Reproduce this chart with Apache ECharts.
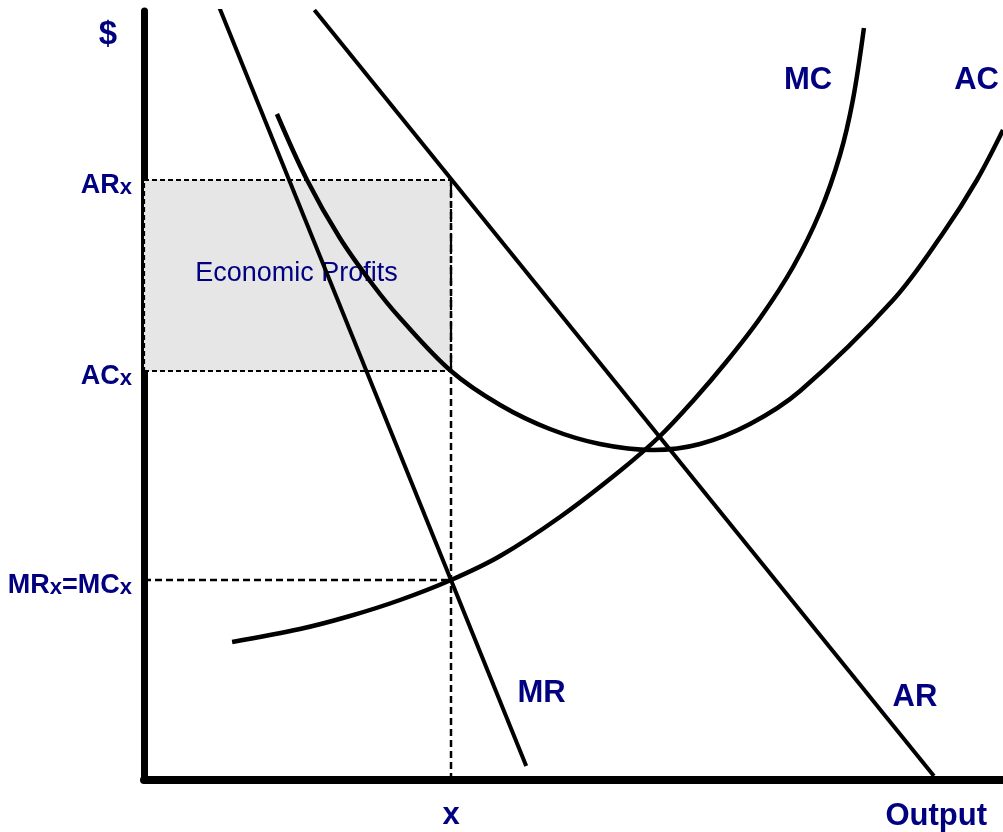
<!DOCTYPE html>
<html>
<head>
<meta charset="utf-8">
<script src="https://cdn.jsdelivr.net/npm/echarts@6/dist/echarts.min.js"></script>
<style>
  html, body { margin: 0; padding: 0; background: #ffffff; }
  #chart { width: 1003px; height: 832px; }
</style>
</head>
<body>
<div id="chart"></div>
<script>
// ---- data (quantity units, price units) ----
const outputX = 10;                 // profit-maximising output
const priceMRMC = 10;               // MRx = MCx
const priceAC = 20.45;              // ACx
const priceAR = 30;                 // ARx
const xMax = 27.98;
const yMax = 38.45;

const arLine = [[5.55, 38.5], [25.73, 0.2]];
const mrLine = [[2.46, 38.6], [12.45, 0.7]];

const mcCurve = [
  [2.87, 6.9], [5.08, 7.55], [6.71, 8.2], [8.34, 9.0], [10.0, 10.0],
  [11.6, 11.2], [13.55, 13.15], [15.5, 15.45], [16.81, 17.2], [17.88, 18.95],
  [18.99, 20.95], [20.07, 23.1], [21.14, 25.65], [22.02, 28.4], [22.67, 31.25],
  [23.09, 34.0], [23.45, 37.6]
];

const acCurve = [
  [4.33, 33.3], [5.31, 30.0], [6.38, 27.1], [7.46, 24.75], [8.34, 23.1],
  [10.0, 20.45], [11.6, 18.75], [13.22, 17.55], [14.85, 16.8], [16.58, 16.5],
  [18.11, 16.8], [19.74, 17.8], [21.37, 19.45], [24.4, 24.0],
  [26.03, 27.35], [27.13, 30.0], [27.98, 32.5]
];

const curveLabels = [
  ['MC', 21.63, 34.98],
  ['AC', 27.12, 34.98],
  ['MR', 12.95, 4.33],
  ['AR', 25.11, 4.15]
];
const areaLabel = ['Economic Profits', 4.97, 25.33];

const yTickValues = [priceMRMC, priceAC, priceAR];
const yTickLabels = {
  [priceMRMC]: '{m|MR}{s|x}{m|=MC}{s|x}',
  [priceAC]: '{m|AC}{s|x}',
  [priceAR]: '{m|AR}{s|x}'
};
const xTickValues = [outputX];
const xTickLabels = { [outputX]: 'x' };

// ---- styling ----
const NAVY = '#000080';
const FONT = "'Liberation Sans', Arial, sans-serif";

const chart = echarts.init(document.getElementById('chart'), null, { renderer: 'canvas' });

const option = {
  backgroundColor: '#ffffff',
  animation: false,
  grid: { left: 144, right: 0, top: 11, bottom: 52, containLabel: false, outerBoundsMode: 'none' },
  xAxis: {
    type: 'value', min: 0, max: xMax,
    name: 'Output', nameLocation: 'end', nameGap: -16,
    nameTextStyle: { color: NAVY, fontFamily: FONT, fontWeight: 'bold', fontSize: 31,
                     align: 'right', verticalAlign: 'top', padding: [21, 0, 0, 0] },
    axisLine: { show: true, onZero: false, lineStyle: { color: '#000', width: 8 } },
    axisTick: { show: false },
    splitLine: { show: false },
    axisLabel: {
      show: true, customValues: xTickValues, margin: 20,
      formatter: v => xTickLabels[v] || '',
      color: NAVY, fontFamily: FONT, fontWeight: 'bold', fontSize: 31
    }
  },
  yAxis: {
    type: 'value', min: 0, max: yMax,
    name: '$', nameLocation: 'end', nameGap: -40,
    nameTextStyle: { color: NAVY, fontFamily: FONT, fontWeight: 'bold', fontSize: 33,
                     align: 'right', verticalAlign: 'bottom', padding: [0, 27, 0, 0] },
    axisLine: { show: true, onZero: false, lineStyle: { color: '#000', width: 7 } },
    axisTick: { show: false },
    splitLine: { show: false },
    axisLabel: {
      show: true, customValues: yTickValues, margin: 12,
      padding: [8, 0, 0, 0],
      formatter: v => yTickLabels[v] || '',
      rich: {
        m: { color: NAVY, fontFamily: FONT, fontWeight: 'bold', fontSize: 27, lineHeight: 30, verticalAlign: 'bottom' },
        s: { color: NAVY, fontFamily: FONT, fontWeight: 'bold', fontSize: 22, lineHeight: 30, verticalAlign: 'bottom' }
      }
    }
  },
  series: [
    {
      name: 'profit-box', type: 'line', z: 1,
      data: [[outputX, 0], [outputX, priceAR]],
      showSymbol: false, silent: true,
      lineStyle: { color: '#000', width: 2.5, type: [7, 4] },
      markArea: {
        silent: true,
        itemStyle: { color: '#e6e6e6', borderColor: '#000', borderWidth: 2.2, borderType: [5, 3] },
        data: [[{ xAxis: 0, yAxis: priceAC }, { xAxis: outputX, yAxis: priceAR }]]
      }
    },
    {
      name: 'mr-mc-level', type: 'line', z: 2,
      data: [[0, priceMRMC], [outputX, priceMRMC]],
      showSymbol: false, silent: true,
      lineStyle: { color: '#000', width: 2.5, type: [7, 4] }
    },
    {
      name: 'area-label', type: 'scatter', z: 3, clip: false, silent: true,
      symbolSize: 0, itemStyle: { opacity: 1 },
      data: [[areaLabel[1], areaLabel[2], areaLabel[0]]],
      label: { show: true, position: 'inside', formatter: p => p.value[2], opacity: 1,
               color: NAVY, fontFamily: FONT, fontSize: 27 }
    },
    {
      name: 'AR', type: 'line', z: 5, data: arLine, showSymbol: false,
      lineStyle: { color: '#000', width: 4 }
    },
    {
      name: 'MR', type: 'line', z: 5, data: mrLine, showSymbol: false,
      lineStyle: { color: '#000', width: 4 }
    },
    {
      name: 'MC', type: 'line', z: 5, data: mcCurve, showSymbol: false, smooth: 0.35,
      lineStyle: { color: '#000', width: 4.5 }
    },
    {
      name: 'AC', type: 'line', z: 5, data: acCurve, showSymbol: false, smooth: 0.35,
      lineStyle: { color: '#000', width: 4.5 }
    },
    {
      name: 'curve-labels', type: 'scatter', z: 6, clip: false, silent: true,
      symbolSize: 0, itemStyle: { opacity: 1 },
      data: curveLabels.map(d => [d[1], d[2], d[0]]),
      label: { show: true, position: 'inside', formatter: p => p.value[2], opacity: 1,
               color: NAVY, fontFamily: FONT, fontWeight: 'bold', fontSize: 31 }
    }
  ]
};

chart.setOption(option);
</script>
</body>
</html>
